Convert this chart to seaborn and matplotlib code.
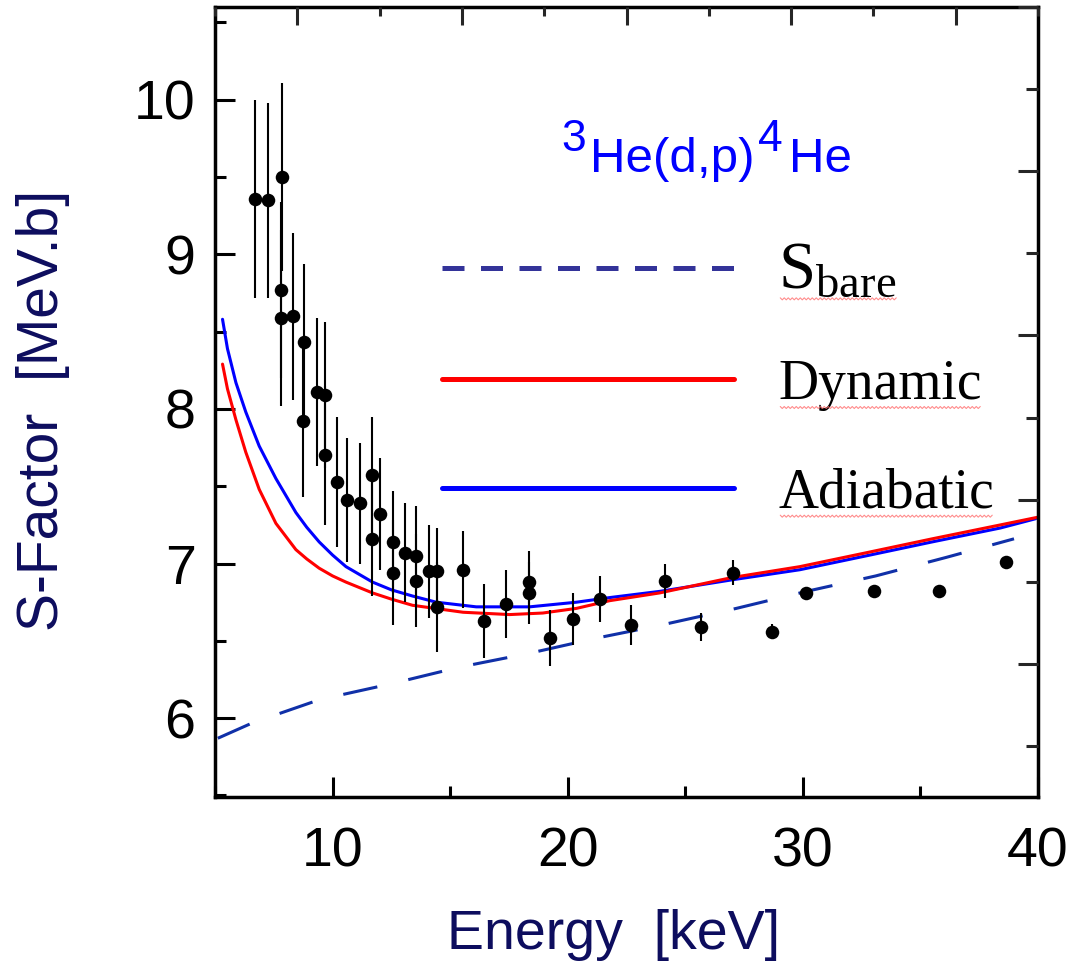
import numpy as np
import pandas as pd
import matplotlib
matplotlib.use("Agg")
import matplotlib.pyplot as plt
import matplotlib.ticker as mticker
from matplotlib.lines import Line2D
from matplotlib.transforms import IdentityTransform
import seaborn as sns

# measured S-factor points: energy [keV], S [MeV.b], error
energy = [6.71, 7.25, 7.86, 7.79, 7.82, 8.31, 8.78, 8.74, 9.32, 9.69, 9.69,
          10.17, 10.60, 11.15, 11.66, 11.66, 12.03, 12.57, 12.57, 13.09, 13.56,
          13.56, 14.09, 14.46, 14.46, 15.53, 16.43, 17.36, 18.35, 18.35, 19.26,
          20.23, 21.36, 22.71, 24.13, 25.65, 27.01, 28.70, 30.12, 33.03, 35.79,
          38.63]
s_factor = [9.36, 9.35, 9.50, 8.77, 8.59, 8.60, 8.43, 7.92, 8.11, 8.09, 7.70,
            7.53, 7.41, 7.39, 7.57, 7.16, 7.32, 7.14, 6.94, 7.07, 7.05,
            6.89, 6.95, 6.95, 6.72, 6.96, 6.63, 6.74, 6.88, 6.81, 6.52,
            6.64, 6.77, 6.60, 6.89, 6.59, 6.94, 6.56, 6.81, 6.82, 6.82,
            7.01]
s_err = [0.64, 0.63, 0.61, 0.57, 0.57, 0.54, 0.51, 0.49, 0.48, 0.47, 0.45,
         0.42, 0.40, 0.39, 0.38, 0.37, 0.36, 0.33, 0.34, 0.32, 0.32,
         0.30, 0.30, 0.28, 0.29, 0.25, 0.24, 0.22, 0.20, 0.20, 0.18,
         0.17, 0.15, 0.13, 0.11, 0.09, 0.08, 0.05, 0.04, 0.03, 0.02,
         0.02]

# model curves
e_adiab = [5.32, 5.53, 5.89, 6.31, 6.88, 7.59, 8.44, 8.9, 9.43, 10.0, 10.57,
           11.70, 12.5, 13.40, 14.41, 16.11, 18.38, 20.37, 21.79, 23.91, 27.0,
           29.87, 32.7, 35.5, 38.4, 39.9]
s_adiab = [8.58, 8.39, 8.17, 7.98, 7.76, 7.55, 7.33, 7.235, 7.14, 7.055, 6.98,
           6.88, 6.83, 6.79, 6.75, 6.72, 6.72, 6.75, 6.78, 6.82, 6.895,
           6.96, 7.05, 7.14, 7.23, 7.29]
e_dyn = [5.32, 5.53, 5.89, 6.31, 6.88, 7.59, 8.44, 8.9, 9.43, 10.0, 10.57,
         11.70, 12.5, 13.40, 15.55, 17.53, 18.94, 20.37, 21.79, 23.91, 27.0,
         29.87, 32.7, 35.5, 38.4, 40.0]
s_dyn = [8.29, 8.13, 7.93, 7.72, 7.48, 7.26, 7.09, 7.03, 6.97, 6.92, 6.88,
         6.81, 6.77, 6.73, 6.685, 6.67, 6.68, 6.71, 6.76, 6.81, 6.91,
         6.98, 7.07, 7.16, 7.25, 7.30]
e_bare = [5.12, 6.6, 9.45, 12.43, 15.4, 18.38, 21.3, 23.91, 27.17, 30.15,
          33.1, 36.1, 38.98]
s_bare = [5.87, 5.97, 6.12, 6.22, 6.33, 6.42, 6.52, 6.60, 6.71, 6.82,
          6.92, 7.04, 7.16]

legend_labels = [r"S$_{\mathrm{bare}}$", "Dynamic", "Adiabatic"]
reaction = ["3", "He(d,p)", "4", "He"]

NAVY = "#0d0d5e"
BLUE = "#0000ff"
RED = "#ff0000"
BARE = "#1030a8"
BARE_LEG = "#333399"

sns.set_theme(style="ticks")
plt.rcParams["font.family"] = ["Liberation Sans", "DejaVu Sans"]
plt.rcParams["mathtext.fontset"] = "custom"
plt.rcParams["mathtext.rm"] = "Liberation Serif"
plt.rcParams["mathtext.it"] = "Liberation Serif:italic"

fig = plt.figure(figsize=(10.69, 9.65), dpi=100)
ax = fig.add_axes([215 / 1069, 1 - 797 / 965, 823 / 1069, 790 / 965])

# curves
sns.lineplot(x=e_adiab, y=s_adiab, ax=ax, color=BLUE, lw=2.2, sort=False,
             estimator=None, zorder=2)
sns.lineplot(x=e_dyn, y=s_dyn, ax=ax, color=RED, lw=2.2, sort=False,
             estimator=None, zorder=2)
sns.lineplot(x=e_bare, y=s_bare, ax=ax, color=BARE, lw=2.2, sort=False,
             estimator=None, zorder=2)
ax.lines[-1].set_dashes((11.4, 10.4))

# data
ax.errorbar(energy, s_factor, yerr=s_err, fmt="none", ecolor="black",
            elinewidth=1.5, capsize=0, zorder=3)
sns.scatterplot(x=energy, y=s_factor, ax=ax, color="black", s=95,
                linewidth=0, zorder=4)

ax.set_xlim(5, 40)
ax.set_ylim(5.49, 10.6)
ax.xaxis.set_major_locator(mticker.MultipleLocator(10))
ax.xaxis.set_minor_locator(mticker.MultipleLocator(5))
ax.yaxis.set_major_locator(mticker.MultipleLocator(1))
ax.yaxis.set_minor_locator(mticker.MultipleLocator(0.5))
ax.tick_params(which="both", direction="in", width=2.2, colors="black",
               top=False, right=False, labelsize=40)
ax.tick_params(which="major", length=14.4)
ax.tick_params(which="minor", length=8)
ax.tick_params(axis="x", pad=21)
ax.tick_params(axis="y", pad=14)
for sp in ax.spines.values():
    sp.set_visible(True)
    sp.set_linewidth(2.5)
    sp.set_color("black")

ax.set_xlabel("Energy  [keV]", fontsize=40, color=NAVY)
ax.set_ylabel("S-Factor  [MeV.b]", fontsize=41, color=NAVY)
ax.xaxis.set_label_coords(0.484, -0.142)
ax.yaxis.set_label_coords(-0.176, 0.49)

# top / right frame ticks (separate scale in the original)
ax_t = ax.twiny()
ax_t.set_xlim(-0.5, 4.5)
ax_t.xaxis.set_major_locator(mticker.MultipleLocator(1))
ax_t.xaxis.set_minor_locator(mticker.MultipleLocator(0.5))
ax_t.tick_params(which="both", direction="in", width=2.2, labeltop=False)
ax_t.tick_params(which="major", length=13)
ax_t.tick_params(which="minor", length=6.5)
ax_r = ax.twinx()
ax_r.set_ylim(-1.81, 3.0)
ax_r.yaxis.set_major_locator(mticker.MultipleLocator(1))
ax_r.yaxis.set_minor_locator(mticker.MultipleLocator(0.5))
ax_r.tick_params(which="both", direction="in", width=2.2, labelright=False)
ax_r.tick_params(which="major", length=14.4)
ax_r.tick_params(which="minor", length=8.5)
for a in (ax_t, ax_r):
    for sp in a.spines.values():
        sp.set_visible(False)

# legend
handles = [Line2D([], [], color=BARE_LEG, lw=3.6, dashes=(4.4, 3.3)),
           Line2D([], [], color=RED, lw=3.6),
           Line2D([], [], color=BLUE, lw=3.6)]
leg = ax.legend(handles, legend_labels, loc="upper left",
                bbox_to_anchor=(0.276, 0.704), frameon=False,
                handlelength=5.25, handletextpad=0.8, labelspacing=1.02,
                borderpad=0, borderaxespad=0,
                prop={"family": "Liberation Serif", "size": 40})
for t in leg.get_texts():
    t.set_color("black")
leg.get_texts()[0].set_fontsize(48)

# reaction label with full-size superscripts
base_y = 0.7915
t_main = ax.text(0.4557, base_y, reaction[1], transform=ax.transAxes,
                 ha="left", va="baseline", fontsize=35.5, color=BLUE)
ax.annotate(reaction[0], xy=(0, base_y), xycoords=(t_main, "axes fraction"),
            xytext=(-4, 21), textcoords="offset pixels", ha="right",
            va="baseline", fontsize=32, color=BLUE)
t_4 = ax.annotate(reaction[2], xy=(1, base_y), xycoords=(t_main, "axes fraction"),
                  xytext=(3, 21), textcoords="offset pixels", ha="left",
                  va="baseline", fontsize=32, color=BLUE)
ax.annotate(reaction[3], xy=(1, base_y), xycoords=(t_4, "axes fraction"),
            xytext=(7, 0), textcoords="offset pixels", ha="left",
            va="baseline", fontsize=35.5, color=BLUE)

# faint wavy spell-check underline under the legend words
fig.canvas.draw()
renderer = fig.canvas.get_renderer()
for t in leg.get_texts():
    bb = t.get_window_extent(renderer)
    xs = np.arange(bb.x0 + 2, bb.x1, 2.0)
    ys = bb.y0 + 3 + np.where(np.arange(len(xs)) % 2 == 0, 1.0, -1.0)
    fig.add_artist(Line2D(xs, ys, transform=IdentityTransform(),
                          color="#ff7070", lw=0.8, alpha=0.8))

fig.savefig("out.png", dpi=100)
